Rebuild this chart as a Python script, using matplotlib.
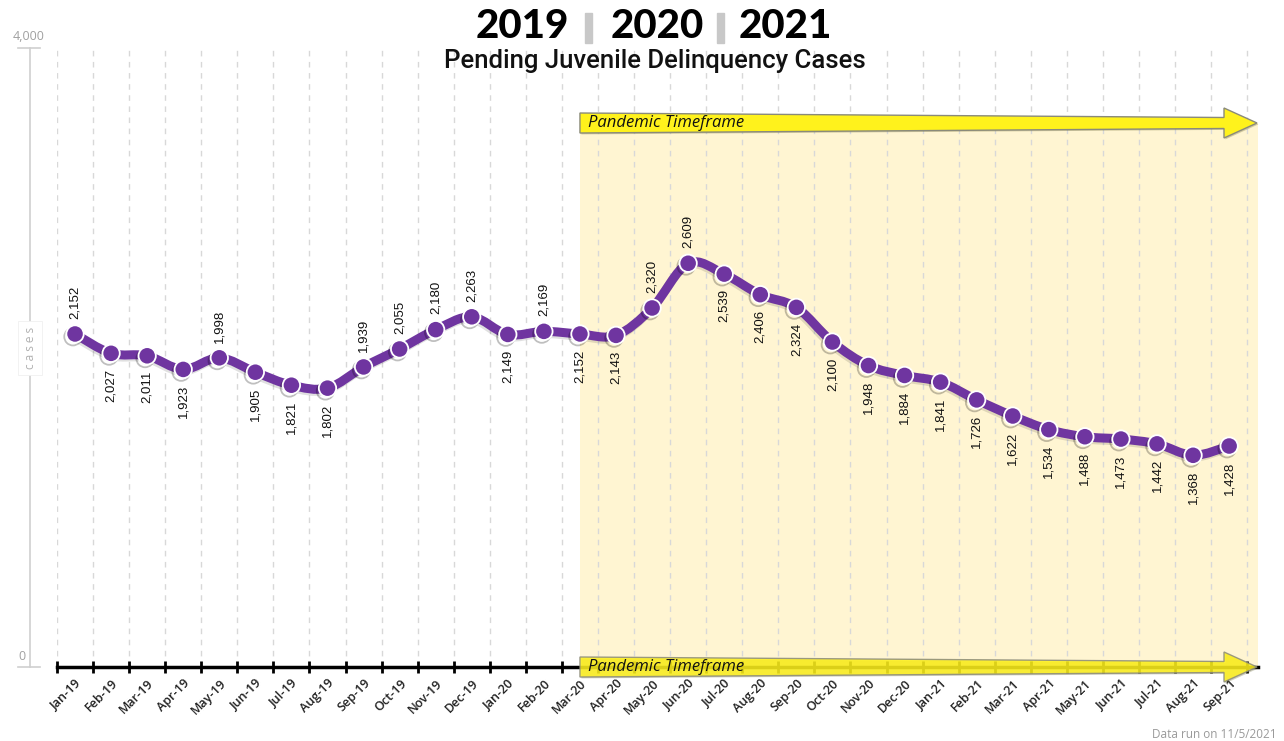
import numpy as np
import matplotlib
matplotlib.use("Agg")
import matplotlib.pyplot as plt
from matplotlib.path import Path
from matplotlib.patches import PathPatch, Polygon, Rectangle
import matplotlib.patheffects as pe

months = ["Jan-19", "Feb-19", "Mar-19", "Apr-19", "May-19", "Jun-19", "Jul-19",
          "Aug-19", "Sep-19", "Oct-19", "Nov-19", "Dec-19", "Jan-20", "Feb-20",
          "Mar-20", "Apr-20", "May-20", "Jun-20", "Jul-20", "Aug-20", "Sep-20",
          "Oct-20", "Nov-20", "Dec-20", "Jan-21", "Feb-21", "Mar-21", "Apr-21",
          "May-21", "Jun-21", "Jul-21", "Aug-21", "Sep-21"]
cases = [2152, 2027, 2011, 1923, 1998, 1905, 1821, 1802, 1939, 2055, 2180, 2263,
         2149, 2169, 2152, 2143, 2320, 2609, 2539, 2406, 2324, 2100, 1948, 1884,
         1841, 1726, 1622, 1534, 1488, 1473, 1442, 1368, 1428]
# which data labels sit above the point (the rest go below)
label_above = [0, 4, 8, 9, 10, 11, 13, 16, 17]
pandemic_start = "Mar-20"
years = ["2019", "2020", "2021"]

PURPLE = "#6f35a0"
SHADE = "#fff5d2"
ARROW = "#fff21c"
GRAY = "#a0a0a0"

W, H = 1284, 741
X0, X1 = 57, 1258      # axes left/right in pixels
YB, YT = 667, 48       # axes bottom/top in pixels
XLIM = (-0.5, 32.8)
YLIM = (0, 4000)


def px_x(p):
    return XLIM[0] + (p - X0) * (XLIM[1] - XLIM[0]) / (X1 - X0)


def px_h(p):
    # pixel height -> data units
    return p * (YLIM[1] - YLIM[0]) / (YB - YT)


def px_y(p):
    return (YB - p) * (YLIM[1] - YLIM[0]) / (YB - YT)


def smooth_path(xs, ys):
    """Catmull-Rom through the points, as cubic Bezier segments."""
    pts = np.column_stack([xs, ys]).astype(float)
    padded = np.vstack([pts[0], pts, pts[-1]])
    verts = [tuple(pts[0])]
    codes = [Path.MOVETO]
    for i in range(1, len(padded) - 2):
        p0, p1, p2, p3 = padded[i - 1], padded[i], padded[i + 1], padded[i + 2]
        c1 = p1 + (p2 - p0) / 6.0
        c2 = p2 - (p3 - p1) / 6.0
        verts += [tuple(c1), tuple(c2), tuple(p2)]
        codes += [Path.CURVE4] * 3
    return Path(verts, codes)


def pandemic_arrow(x_start, yc, z, alpha=1.0):
    x_head = px_x(1224)
    x_tip = px_x(1257)
    h0, h1, hw = px_h(10), px_h(5.5), px_h(15)
    poly = Polygon([(x_start, yc + h0), (x_head, yc + h1), (x_head, yc + hw),
                    (x_tip, yc), (x_head, yc - hw), (x_head, yc - h1),
                    (x_start, yc - h0)],
                   closed=True, facecolor=ARROW, edgecolor="#8a8a7a", lw=1.0,
                   alpha=alpha, zorder=z, clip_on=False,
                   path_effects=[pe.SimplePatchShadow(offset=(1, -1), alpha=0.25),
                                 pe.Normal()])
    ax.add_patch(poly)
    ax.text(x_start + px_x(65) - px_x(57), yc, "Pandemic Timeframe", style="italic",
            fontsize=12, family="Open Sans", color="#111111", ha="left",
            va="center", zorder=z + 0.1, clip_on=False)


x = np.arange(len(months))
ps = months.index(pandemic_start)

fig = plt.figure(figsize=(W / 100, H / 100), dpi=100)
ax = fig.add_axes([X0 / W, (H - YB) / H, (X1 - X0) / W, (YB - YT) / H])
ax.set_xlim(*XLIM)
ax.set_ylim(*YLIM)

# pandemic shading
ax.axvspan(ps, XLIM[1], ymin=0, ymax=px_y(123) / YLIM[1], color=SHADE, lw=0, zorder=0)

# dashed category boundaries
for b in np.arange(-0.5, len(months), 1.0):
    ax.axvline(b, color="#d8d8d8", lw=1, ls=(0, (4, 4)), zorder=1)

# axes cosmetics
for s in ["top", "right", "left"]:
    ax.spines[s].set_visible(False)
ax.spines["bottom"].set_color("black")
ax.spines["bottom"].set_linewidth(2.5)
ax.set_yticks([])
ax.set_xticks(x)
ax.set_xticklabels(months, rotation=45, ha="right", va="top",
                   rotation_mode="anchor", fontsize=9, family="Open Sans",
                   weight="semibold", color="#222222")
ax.tick_params(axis="x", which="major", length=0, pad=7)
ax.set_xticks(np.arange(-0.5, len(months), 1.0), minor=True)
ax.tick_params(axis="x", which="minor", length=8, width=2, direction="inout",
               color="black")

# smoothed line + markers (soft drop shadow)
soft_shadow = [pe.SimpleLineShadow(offset=(-1, -1.5), alpha=0.12,
                                   shadow_color="black"),
               pe.Normal()]
ax.add_patch(PathPatch(smooth_path(x, cases), fill=False, edgecolor=PURPLE,
                       lw=6.5, capstyle="round", joinstyle="round", zorder=4,
                       path_effects=soft_shadow))
ax.plot(x, cases, "o", ms=12.5, mfc=PURPLE, mec="white", mew=1.3, zorder=5,
        path_effects=[pe.SimpleLineShadow(offset=(-1.5, -2), alpha=0.25,
                                          shadow_color="black"),
                      pe.Normal()])

for i, v in enumerate(cases):
    above = i in label_above
    ax.annotate(f"{v:,}", (i, v), xytext=(0, 11 if above else -11),
                textcoords="offset points", rotation=90, ha="center",
                va="bottom" if above else "top", fontsize=9.5,
                family="Liberation Sans", color="#111111", zorder=6)

# pandemic arrows (top and on the x-axis)
pandemic_arrow(ps, px_y(123), 7)
pandemic_arrow(ps, 0, 7, alpha=0.85)

# hand-drawn left value axis
xa = px_x(30)
ax.plot([xa, xa], [0, 4000], color="#cfcfcf", lw=1.2, clip_on=False, zorder=1)
for yv in (0, 4000):
    ax.plot([px_x(18), px_x(40)], [yv, yv], color="#cfcfcf", lw=1.2,
            clip_on=False, zorder=1)
ax.text(px_x(29), px_y(36), "4,000", fontsize=9, family="Open Sans", color=GRAY,
        ha="center", va="center", clip_on=False)
ax.text(px_x(21.5), px_y(657), "0", fontsize=9, family="Open Sans", color=GRAY,
        ha="center", va="center", clip_on=False)
ax.text(xa, px_y(348), "c a s e s", rotation=90, fontsize=8.5, family="Open Sans",
        color="#b0b0b0", ha="center", va="center", clip_on=False,
        bbox=dict(boxstyle="square,pad=0.5", fc="white", ec="#f0f0f0", lw=0.6))

# title: years separated by grey bars
for cx, yr in zip([522, 657, 785], years):
    fig.text(cx / W, 1 - 26 / H, yr, family="Lato", weight="black", fontsize=29,
             ha="center", va="center", color="black")
for bx in (588, 720):
    fig.patches.append(Rectangle(((bx - 3.5) / W, 1 - 43 / H), 7 / W, 30 / H,
                                 transform=fig.transFigure, color="#c8c8c8"))
fig.text(655 / W, 1 - 61 / H, "Pending Juvenile Delinquency Cases",
         family="Roboto", weight="medium", fontsize=18.5, ha="center",
         va="center", color="#111111")
fig.text(1277 / W, 1 - 734 / H, "Data run on 11/5/2021", family="Open Sans",
         fontsize=8.5, ha="right", va="center", color="#9a9a9a")

fig.savefig("out.png", dpi=100, facecolor="white")
